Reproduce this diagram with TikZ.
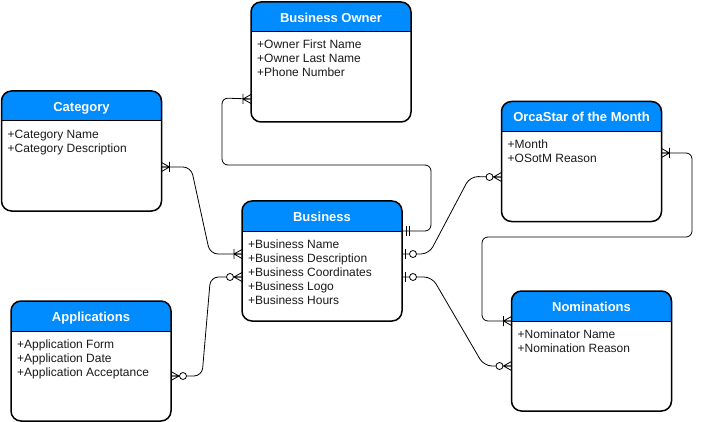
\documentclass[tikz,border=0pt]{standalone}
\usepackage{fontspec}
\setmainfont{Liberation Sans}
\definecolor{hdr}{HTML}{008CFF}
\definecolor{txt}{HTML}{1A1A1A}
\begin{document}
\begin{tikzpicture}[x=1pt,y=-1pt]
\tikzset{
  entity/.style={draw=black, line width=1.5pt, rounded corners=10pt,
    minimum width=160pt, minimum height=120pt, outer sep=0pt, inner sep=0pt,
    anchor=north west, fill=white,
    path picture={
      \fill[hdr, sharp corners] (path picture bounding box.north west) rectangle ([yshift=-30pt]path picture bounding box.north east);
      \draw[black, line width=1pt, sharp corners] ([yshift=-30pt]path picture bounding box.north west) -- ([yshift=-30pt]path picture bounding box.north east);
    }},
  etitle/.style={text=white, font=\fontsize{13}{15}\selectfont\bfseries, inner sep=0pt, anchor=base},
  eattr/.style={text=txt, inner sep=0pt, anchor=base west},
  conn/.style={draw=black, line width=0.8pt},
  mk/.style={draw=black, line width=0.8pt, sharp corners},
  pics/onemany/.style={code={
    \draw[mk] (-8,0) -- (0,4.5) (-8,0) -- (0,0) (-8,0) -- (0,-4.5) (-8,-5) -- (-8,5);}},
  pics/zeromany/.style={code={
    \draw[mk] (-8,0) -- (0,4.5) (-8,0) -- (0,0) (-8,0) -- (0,-4.5);
    \draw[mk, fill=white] (-12,0) circle[radius=3.5];}},
  pics/zeroone/.style={code={
    \draw[mk] (-3,-5) -- (-3,5);
    \draw[mk, fill=white] (-11,0) circle[radius=3.5];}},
  pics/mandone/.style={code={
    \draw[mk] (-4,-5) -- (-4,5) (-7,-5) -- (-7,5);}},
}
\newcommand{\attrs}[1]{\parbox[t]{150pt}{\fontsize{12}{14}\selectfont\raggedright #1}}
\useasboundingbox (0,0) rectangle (701,422);

% entity boxes (positions)
\path (251,2) coordinate (pbo) (1.5,91) coordinate (pcat) (242,201) coordinate (pbus)
      (501.5,101.5) coordinate (porca) (511.5,291) coordinate (pnom) (11,301) coordinate (papp);

% connection points
\path (pcat) ++(160,76) coordinate (catR);
\path (pbus) ++(0,53) coordinate (busL1);
\path (pbus) ++(0,76) coordinate (busL2);
\path (pbus) ++(160,30) coordinate (busR0);
\path (pbus) ++(160,53) coordinate (busR1);
\path (pbus) ++(160,76) coordinate (busR2);
\path (pbo) ++(0,97) coordinate (boL);
\path (porca) ++(0,75.5) coordinate (orcaL);
\path (porca) ++(160,51.5) coordinate (orcaR);
\path (pnom) ++(0,30) coordinate (nomL1);
\path (pnom) ++(0,75) coordinate (nomL2);
\path (papp) ++(160,75) coordinate (appR);

% connectors
\draw[conn, rounded corners=8pt] (catR) -- (191,167) -- (210,254) -- (busL1);
\draw[conn, rounded corners=6pt] (busR0) -- (431,231) -- (431,165) -- (222,165) -- (222,98) -- (boL);
\draw[conn, rounded corners=8pt] (busR1) -- (429,254) -- (470,176.5) -- (orcaL);
\draw[conn, rounded corners=8pt] (busR2) -- (432,277) -- (484,366) -- (nomL2);
\draw[conn, rounded corners=6pt] (orcaR) -- (692,153) -- (692,237) -- (482,237) -- (482,321) -- (nomL1);
\draw[conn, rounded corners=8pt] (appR) -- (202,376) -- (210.5,277) -- (busL2);

% entities
\node[entity] (bo) at (pbo) {};
\node[etitle] (botitle) at ([yshift=-20.5pt]bo.north) {Business Owner};
\node[eattr] (boattr) at ([xshift=6pt,yshift=-47pt]bo.north west) {\attrs{+Owner First Name\\+Owner Last Name\\+Phone Number}};

\node[entity] (cat) at (pcat) {};
\node[etitle] (cattitle) at ([yshift=-20.5pt]cat.north) {Category};
\node[eattr] (catattr) at ([xshift=6pt,yshift=-47.5pt]cat.north west) {\attrs{+Category Name\\+Category Description}};

\node[entity] (bus) at (pbus) {};
\node[etitle] (bustitle) at ([yshift=-20.5pt]bus.north) {Business};
\node[eattr] (busattr) at ([xshift=6pt,yshift=-47.5pt]bus.north west) {\attrs{+Business Name\\+Business Description\\+Business Coordinates\\+Business Logo\\+Business Hours}};

\node[entity] (orca) at (porca) {};
\node[etitle] (orcatitle) at ([yshift=-20.5pt]orca.north) {OrcaStar of the Month};
\node[eattr] (orcaattr) at ([xshift=6pt,yshift=-47.5pt]orca.north west) {\attrs{+Month\\+OSotM Reason}};

\node[entity] (nom) at (pnom) {};
\node[etitle] (nomtitle) at ([yshift=-20.5pt]nom.north) {Nominations};
\node[eattr] (nomattr) at ([xshift=6pt,yshift=-47.5pt]nom.north west) {\attrs{+Nominator Name\\+Nomination Reason}};

\node[entity] (app) at (papp) {};
\node[etitle] (apptitle) at ([yshift=-20.5pt]app.north) {Applications};
\node[eattr] (appattr) at ([xshift=6pt,yshift=-47.5pt]app.north west) {\attrs{+Application Form\\+Application Date\\+Application Acceptance}};

% end markers
\pic[rotate=180] at (catR) {onemany};
\pic at (busL1) {onemany};
\pic[rotate=180] at (busR0) {mandone};
\pic at (boL) {onemany};
\pic[rotate=180] at (busR1) {zeroone};
\pic at (orcaL) {zeromany};
\pic[rotate=180] at (busR2) {zeroone};
\pic at (nomL2) {zeromany};
\pic[rotate=180] at (orcaR) {onemany};
\pic at (nomL1) {onemany};
\pic[rotate=180] at (appR) {zeromany};
\pic at (busL2) {zeromany};
\end{tikzpicture}
\end{document}
